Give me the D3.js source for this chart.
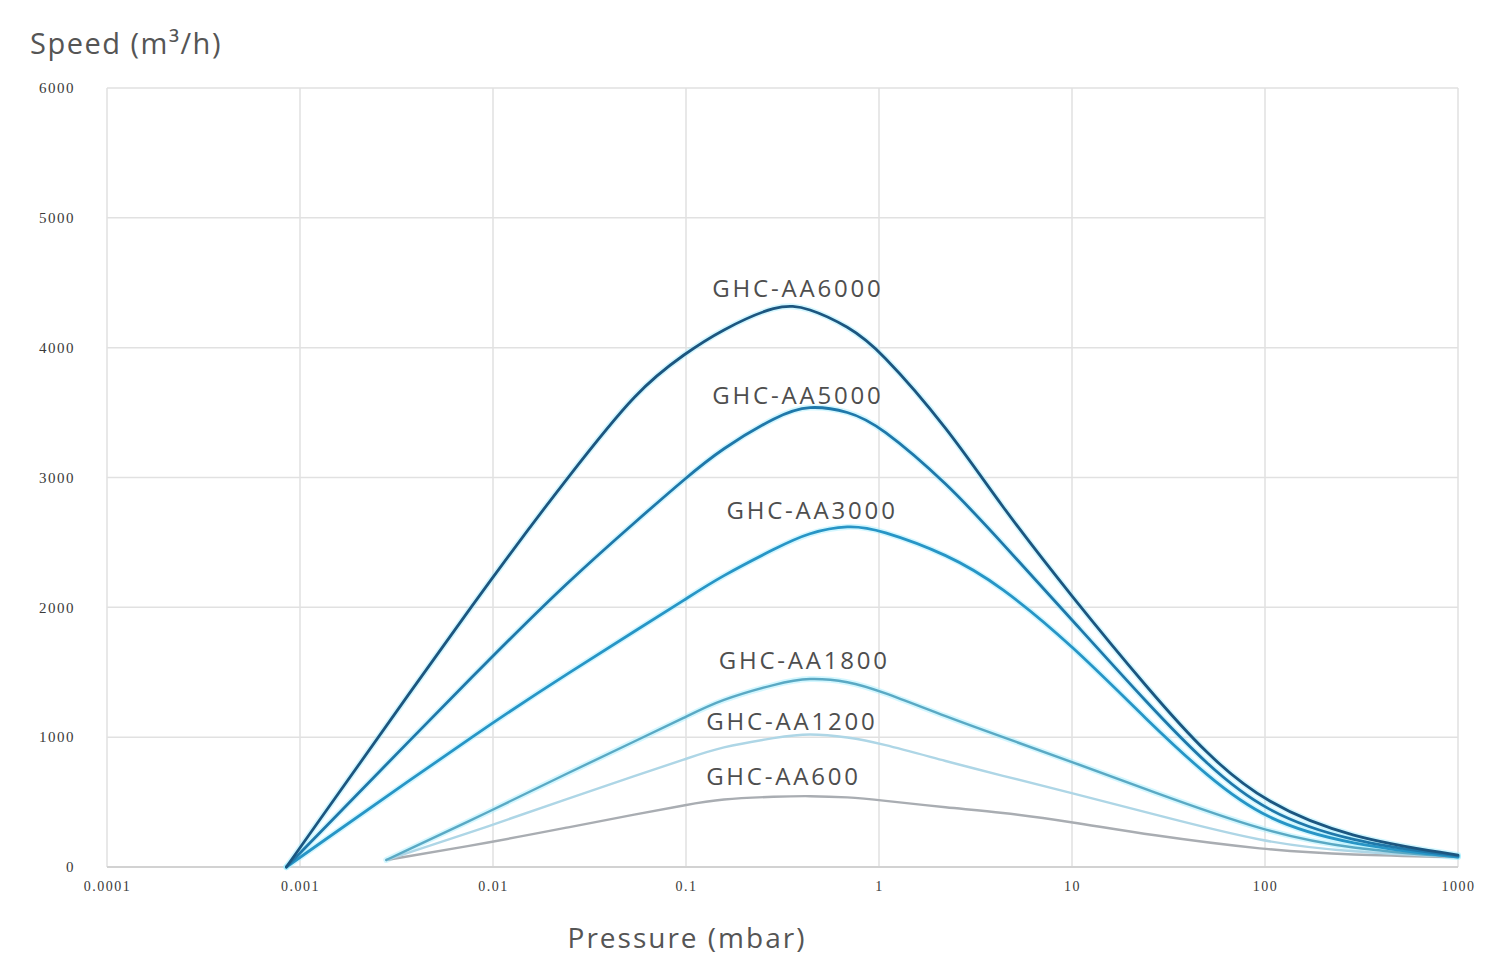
<!DOCTYPE html>
<html><head><meta charset="utf-8">
<script src="https://cdn.jsdelivr.net/npm/d3@7/dist/d3.min.js"></script>
<style>body{margin:0;background:#fff}svg{display:block}</style>
</head><body>
<svg id="c" width="1498" height="956"></svg>
<script>
const xTicks = [0.0001, 0.001, 0.01, 0.1, 1, 10, 100, 1000];
const xTickLabels = ["0.0001", "0.001", "0.01", "0.1", "1", "10", "100", "1000"];
const yTicks = [0, 1000, 2000, 3000, 4000, 5000, 6000];
const yTickLabels = ["0", "1000", "2000", "3000", "4000", "5000", "6000"];

const seriesNames = ["GHC-AA6000", "GHC-AA5000", "GHC-AA3000", "GHC-AA1800", "GHC-AA1200", "GHC-AA600"];

const pBig   = [0.00085, 0.01, 0.025, 0.056, 0.1, 0.15, 0.3, 0.43, 0.7, 1, 2.3, 4.2, 10, 25, 50, 100, 275, 1000];
const s6000  = [0, 2250, 3020, 3680, 3960, 4130, 4340, 4310, 4160, 3990, 3370, 2800, 2080, 1364, 863, 493, 223, 92];
const s5000  = [0, 1633, 2211, 2673, 2997, 3213, 3480, 3560, 3510, 3405, 2943, 2519, 1903, 1248, 786, 424, 193, 85];
const s3000  = [0, 1120, 1500, 1830, 2065, 2234, 2465, 2575, 2635, 2600, 2404, 2173, 1710, 1117, 700, 362, 170, 77];

const pSmall = [0.0028, 0.01, 0.025, 0.056, 0.1, 0.15, 0.3, 0.43, 0.7, 1, 2.3, 4.2, 10, 25, 100, 275, 1000];
const s1800  = [54, 439, 732, 978, 1156, 1287, 1415, 1460, 1430, 1360, 1150, 1010, 810, 590, 270, 139, 77];
const s1200  = [54, 324, 532, 709, 832, 924, 1000, 1030, 1000, 955, 809, 709, 570, 416, 185, 116, 77];
const s600   = [54, 193, 308, 408, 478, 524, 543, 548, 538, 516, 455, 424, 347, 247, 131, 92, 77];

// label anchors in data units [pressure, speed]
const labelP = [0.38, 0.38, 0.45, 0.41, 0.354, 0.32];
const labelV = [4461, 3636, 2750, 1595, 1132, 701];

const colors = ["#1c5680", "#1f78aa", "#2795c6", "#5aa9c4", "#aed6e6", "#a9adb2"];

const series = [
  {name: seriesNames[0], p: pBig, v: s6000},
  {name: seriesNames[1], p: pBig, v: s5000},
  {name: seriesNames[2], p: pBig, v: s3000},
  {name: seriesNames[3], p: pSmall, v: s1800},
  {name: seriesNames[4], p: pSmall, v: s1200},
  {name: seriesNames[5], p: pSmall, v: s600}
];

const svg = d3.select("#c");
const L = 107, R = 1458, T = 88, B = 867;
const x = d3.scaleLog().domain([0.0001, 1000]).range([L, R]);
const y = d3.scaleLinear().domain([0, 6000]).range([B, T]);

// grid
svg.append("g").selectAll("line").data(xTicks).join("line")
  .attr("x1", d => x(d)).attr("x2", d => x(d)).attr("y1", T).attr("y2", B)
  .attr("stroke", "#e1e1e1").attr("stroke-width", 1.5);
svg.append("g").selectAll("line").data(yTicks).join("line")
  .attr("x1", L).attr("x2", (d) => d === 5000 ? x(100) : R).attr("y1", d => y(d)).attr("y2", d => y(d))
  .attr("stroke", d => d === 0 ? "#d2d2d2" : "#e1e1e1").attr("stroke-width", d => d === 0 ? 2 : 1.5);

// axes
const xAxis = d3.axisBottom(x).tickValues(xTicks).tickFormat((d, i) => xTickLabels[i]).tickSize(0).tickPadding(14);
svg.append("g").attr("transform", `translate(0,${B})`).call(xAxis)
  .call(g => g.select(".domain").remove())
  .selectAll("text").attr("font-family", "Liberation Serif, serif").attr("font-size", 14)
  .attr("letter-spacing", 1.5).attr("fill", "#3a3a3a");

const yAxis = d3.axisLeft(y).tickValues(yTicks).tickFormat((d, i) => yTickLabels[i]).tickSize(0).tickPadding(32);
svg.append("g").attr("transform", `translate(${L},0)`).call(yAxis)
  .call(g => g.select(".domain").remove())
  .selectAll("text").attr("font-family", "Liberation Serif, serif").attr("font-size", 15)
  .attr("letter-spacing", 1.5).attr("fill", "#3a3a3a");

// curves
const line = d3.line().x(d => x(d[0])).y(d => y(d[1])).curve(d3.curveBasis);
const g = svg.append("g");
series.forEach((s, i) => {
  const pts = s.p.map((p, j) => [p, s.v[j]]);
  if (i < 4) {
    g.append("path").attr("d", line(pts)).attr("fill", "none")
      .attr("stroke", "#9eeeff").attr("stroke-width", 6).attr("stroke-opacity", 0.45)
      .attr("stroke-linejoin", "round").attr("stroke-linecap", "round");
  }
});
series.slice().reverse().forEach((s, k) => {
  const i = series.length - 1 - k;
  const pts = s.p.map((p, j) => [p, s.v[j]]);
  g.append("path").attr("d", line(pts)).attr("fill", "none")
    .attr("stroke", colors[i]).attr("stroke-width", i < 3 ? 2.8 : 2.4)
    .attr("stroke-linejoin", "round").attr("stroke-linecap", "round");
});

// series labels
svg.append("g").selectAll("text").data(series).join("text")
  .attr("x", (d, i) => x(labelP[i])).attr("y", (d, i) => y(labelV[i]))
  .attr("text-anchor", "middle").attr("dominant-baseline", "central")
  .attr("font-family", "Open Sans, sans-serif").attr("font-size", 24)
  .attr("letter-spacing", 2.8).attr("fill", "#4e4e4e")
  .text(d => d.name);

// axis titles
svg.append("text").attr("x", 30).attr("y", 54)
  .attr("font-family", "Open Sans, sans-serif").attr("font-size", 29).attr("fill", "#555")
  .attr("letter-spacing", 1.5)
  .text("Speed (m³/h)");
svg.append("text").attr("x", 687).attr("y", 948).attr("text-anchor", "middle")
  .attr("font-family", "Open Sans, sans-serif").attr("font-size", 28).attr("fill", "#555")
  .attr("letter-spacing", 2)
  .text("Pressure (mbar)");
</script>
</body></html>
